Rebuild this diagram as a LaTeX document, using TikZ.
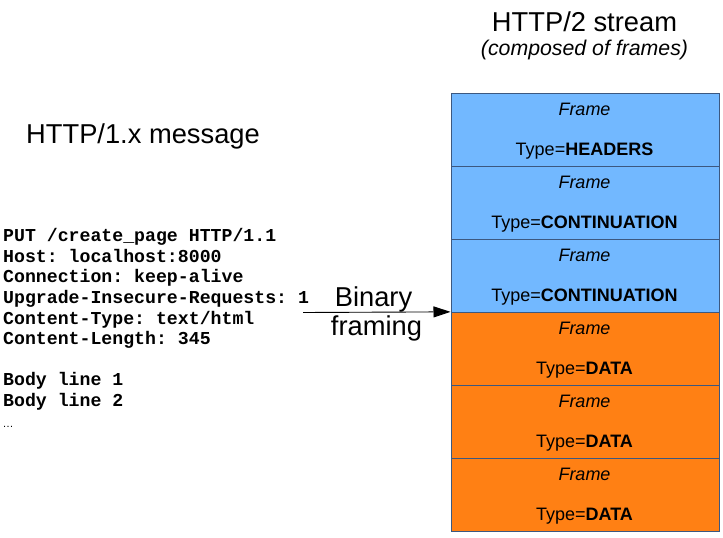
\documentclass[tikz,border=0pt]{standalone}
\usepackage{fontspec}
\setmainfont{Liberation Sans}
\setmonofont{Liberation Mono}
\usetikzlibrary{arrows.meta}
\definecolor{frameblue}{RGB}{114,184,255}
\definecolor{frameorange}{RGB}{255,128,20}
\definecolor{frameedge}{RGB}{60,88,128}
\begin{document}
\begin{tikzpicture}[x=1pt,y=-1pt,
  framebox/.style={draw=frameedge,line width=1pt,minimum width=268.5pt,minimum height=73.05pt,inner sep=0pt,anchor=north west},
  frametxt/.style={font=\fontsize{18}{20}\selectfont\itshape,anchor=base,inner sep=0pt},
  typetxt/.style={font=\fontsize{18}{20}\selectfont,anchor=base,inner sep=0pt},
  codeline/.style={font=\fontsize{18.2}{20}\ttfamily\bfseries,anchor=base west,inner sep=0pt},
  title/.style={font=\fontsize{27.3}{30}\selectfont,anchor=base,inner sep=0pt}]
\useasboundingbox (0,0) rectangle (723,538);
% titles
\node[title] (t2) at (584.5,31.7) {HTTP/2 stream};
\node[font=\fontsize{21.3}{24}\selectfont\itshape,anchor=base,inner sep=0pt] (t2s) at (584.5,55.5) {(composed of frames)};
\node[title,anchor=base west] (t1) at (26,143.3) {HTTP/1.x message};
% frames
\foreach \i/\col/\typ in {0/frameblue/HEADERS,1/frameblue/CONTINUATION,2/frameblue/CONTINUATION,3/frameorange/DATA,4/frameorange/DATA,5/frameorange/DATA}{
  \node[framebox,fill=\col] (f\i) at (450.5,92.7+73.05*\i) {};
  \node[frametxt] (fl\i) at (584.5,92.7+73.05*\i+23) {Frame};
  \node[typetxt] (ft\i) at (584.5,92.7+73.05*\i+63) {Type=\textbf{\typ}};
}
% HTTP/1.x message
\node[codeline] (c1) at (3,241.7) {PUT /create\_page HTTP/1.1};
\node[codeline] (c2) at (3,262.3) {Host: localhost:8000};
\node[codeline] (c3) at (3,282.9) {Connection: keep-alive};
\node[codeline] (c4) at (3,303.5) {Upgrade-Insecure-Requests: 1};
\node[codeline] (c5) at (3,324.1) {Content-Type: text/html};
\node[codeline] (c6) at (3,344.7) {Content-Length: 345};
\node[codeline] (c7) at (3,385.9) {Body line 1};
\node[codeline] (c8) at (3,406.5) {Body line 2};
\node[font=\fontsize{11}{12}\selectfont,anchor=base west,inner sep=0pt] (c9) at (2.5,427) {\textellipsis};
% arrow
\coordinate (as) at (303,312.5);
\draw[line width=0.9pt,-{Triangle[length=17pt,width=11pt]}] (as) -- (f3.north west);
\node[font=\fontsize{27.3}{30}\selectfont,anchor=base,inner sep=0pt] (b1) at (373.5,306.7) {Binary};
\node[font=\fontsize{27.3}{30}\selectfont,anchor=base,inner sep=0pt] (b2) at (376.5,335) {framing};
\end{tikzpicture}
\end{document}
